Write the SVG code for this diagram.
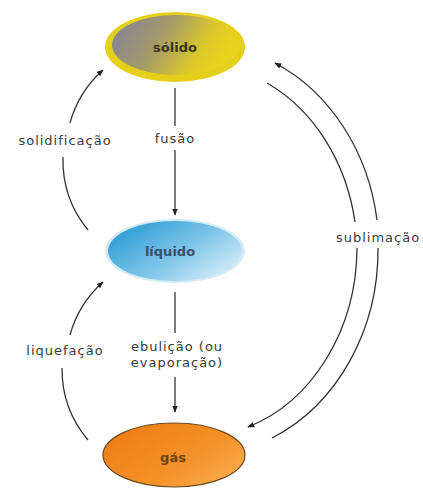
<svg xmlns="http://www.w3.org/2000/svg" width="423" height="488" viewBox="0 0 423 488">
<defs>
<linearGradient id="gSol" x1="0" y1="0" x2="1" y2="0.3">
<stop offset="0" stop-color="#7f7f9e"/>
<stop offset="0.45" stop-color="#a49a6a"/>
<stop offset="0.8" stop-color="#dcc82a"/>
<stop offset="1" stop-color="#e8d41c"/>
</linearGradient>
<linearGradient id="gLiq" x1="0" y1="0.2" x2="1" y2="0.9">
<stop offset="0" stop-color="#2a9bd4"/>
<stop offset="0.5" stop-color="#7cc4e8"/>
<stop offset="1" stop-color="#e2f2fa"/>
</linearGradient>
<linearGradient id="gGas" x1="0" y1="0.2" x2="1" y2="0.9">
<stop offset="0" stop-color="#ee7d12"/>
<stop offset="0.6" stop-color="#f4932a"/>
<stop offset="1" stop-color="#f9b055"/>
</linearGradient>
<marker id="ah" viewBox="0 0 10 10" refX="9" refY="5" markerWidth="7" markerHeight="7" orient="auto" markerUnits="userSpaceOnUse">
<path d="M0,1 L10,5 L0,9 Z" fill="#222"/>
</marker>
</defs>
<style>
.c{fill:none;stroke:#333;stroke-width:1.3}
.lbl{font-family:"DejaVu Sans",sans-serif;font-size:13px;fill:#3a3a3a;letter-spacing:1px;text-anchor:middle}
.nl{font-family:"DejaVu Sans",sans-serif;font-size:13px;font-weight:bold;text-anchor:middle}
</style>
<rect width="423" height="488" fill="#fff"/>
<g id="solido">
<ellipse cx="175" cy="47" rx="70" ry="35" fill="#e4d018"/>
<ellipse cx="176" cy="45" rx="64" ry="30" fill="url(#gSol)"/>
<text class="nl" x="175" y="52" fill="#3a3520">sólido</text>
</g>
<g id="liquido">
<ellipse cx="175" cy="251" rx="70" ry="32" fill="#bfe2f4" opacity="0.7"/>
<ellipse cx="175" cy="251" rx="67" ry="30" fill="url(#gLiq)"/>
<text class="nl" x="170" y="256" fill="#3b4f6e">líquido</text>
</g>
<g id="gas">
<ellipse cx="174" cy="455" rx="71" ry="32" fill="url(#gGas)" stroke="#6b4a22" stroke-width="1.2"/>
<text class="nl" x="173" y="462" fill="#6a4418">gás</text>
</g>
<g id="connectors">
<path class="c" d="M175,88 V126"/>
<path class="c" d="M175,150 V215" marker-end="url(#ah)"/>
<path class="c" d="M175,292 V333"/>
<path class="c" d="M175,377 V412" marker-end="url(#ah)"/>
<path class="c" d="M88,230 A110,110 0 0 1 63,157"/>
<path class="c" d="M70,123 A110,110 0 0 1 103,70" marker-end="url(#ah)"/>
<path class="c" d="M88,440 A110,110 0 0 1 62,368"/>
<path class="c" d="M70,335 A110,110 0 0 1 103,282" marker-end="url(#ah)"/>
<path class="c" d="M272,438 A180,206 0 0 0 378,248"/>
<path class="c" d="M377,220 A180,206 0 0 0 275,63" marker-end="url(#ah)"/>
<path class="c" d="M267,83 A160,190 0 0 1 355,222"/>
<path class="c" d="M357,248 A160,190 0 0 1 248,427" marker-end="url(#ah)"/>
</g>
<g id="labels">
<text class="lbl" x="175" y="143">fusão</text>
<text class="lbl" x="65" y="145">solidificação</text>
<text class="lbl" x="65" y="355">liquefação</text>
<text class="lbl" x="177" y="351">ebulição (ou</text>
<text class="lbl" x="177" y="367">evaporação)</text>
<text class="lbl" x="378" y="242">sublimação</text>
</g>
</svg>
